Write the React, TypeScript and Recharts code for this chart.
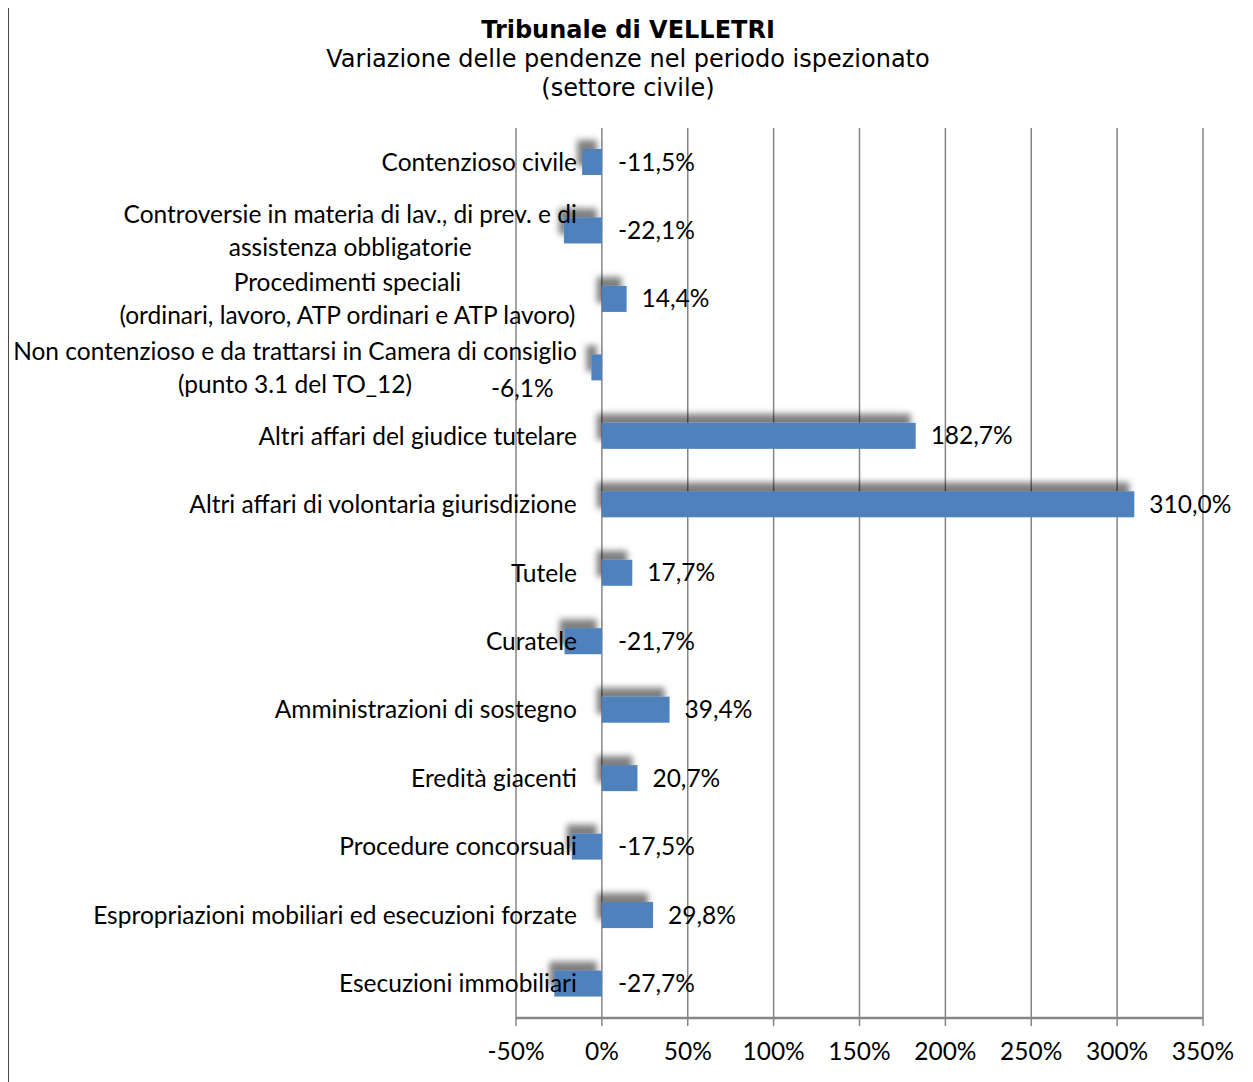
import { BarChart, Bar, XAxis, YAxis, CartesianGrid, LabelList } from 'recharts';

const categories = [
    'Contenzioso civile',
    'Controversie in materia di lav., di prev. e di\nassistenza obbligatorie',
    'Procedimenti speciali\n(ordinari, lavoro, ATP ordinari e ATP lavoro)',
    'Non contenzioso e da trattarsi in Camera di consiglio\n(punto 3.1 del TO_12)',
    'Altri affari del giudice tutelare',
    'Altri affari di volontaria giurisdizione',
    'Tutele',
    'Curatele',
    'Amministrazioni di sostegno',
    'Eredità giacenti',
    'Procedure concorsuali',
    'Espropriazioni mobiliari ed esecuzioni forzate',
    'Esecuzioni immobiliari',
];

const variazione = [-11.5, -22.1, 14.4, -6.1, 182.7, 310.0, 17.7, -21.7, 39.4, 20.7, -17.5, 29.8, -27.7];

const xTicks = [-50, 0, 50, 100, 150, 200, 250, 300, 350];

const data = categories.map((name, i) => ({ name, value: variazione[i] }));

const CHART_W = 1238;
const CHART_H = 1075;
const MARGIN = { top: 121, right: 44, bottom: 24, left: 0 };
const Y_W = 507;
const X_MIN = -50;
const X_MAX = 350;
const LABEL_FONT = 'Lato';
const LABEL_SIZE = 24.5;
const GRID = '#868686';
const BLUE = '#4F81BD';

// the -6,1% label was dragged away from its bar in the original
const labelNudge: Record<number, { dx: number; dy: number }> = {
    3: { dx: -127, dy: 21 },
};

const plotW = CHART_W - MARGIN.left - MARGIN.right - Y_W;
const zeroX = MARGIN.left + Y_W + ((0 - X_MIN) / (X_MAX - X_MIN)) * plotW;

let ctx: CanvasRenderingContext2D | null = null;
const measure = (s: string) => {
    if (!ctx) ctx = document.createElement('canvas').getContext('2d');
    if (!ctx) return s.length * 10;
    ctx.font = `${LABEL_SIZE}px ${LABEL_FONT}`;
    return ctx.measureText(s).width;
};

const CategoryTick = (props: any) => {
    const { y, payload } = props;
    const lines: string[] = String(payload.value).split('\n');
    const widest = Math.max(...lines.map(measure));
    const cx = zeroX - 25 - widest / 2;
    const lh = 33;
    const y0 = y - ((lines.length - 1) * lh) / 2;
    return (
        <text
            textAnchor="middle"
            fontFamily={LABEL_FONT}
            fontSize={LABEL_SIZE}
            fill="#000"
        >
            {lines.map((l, i) => (
                <tspan key={i} x={cx} y={y0 + i * lh} dy="0.35em">
                    {l}
                </tspan>
            ))}
        </text>
    );
};

const ShadowBar = (props: any) => {
    const { x, y, width, height } = props;
    const left = Math.min(x, x + width);
    const w = Math.abs(width);
    return (
        <g>
            <rect x={left} y={y} width={w} height={height} fill={BLUE} filter="url(#barShadow)" />
        </g>
    );
};

const ValueLabel = (props: any) => {
    const { x, y, width, height, value, index } = props;
    const right = Math.max(x, x + width);
    const nudge = labelNudge[index] || { dx: 0, dy: 0 };
    const gap = value < 0 ? 16 : 15;
    return (
        <text
            x={right + gap + nudge.dx}
            y={y + height / 2 + nudge.dy}
            dy="0.35em"
            fontFamily={LABEL_FONT}
            fontSize={LABEL_SIZE}
            fill="#000"
        >
            {value.toFixed(1).replace('.', ',') + '%'}
        </text>
    );
};

export default function App() {
    return (
        <div
            style={{
                position: 'relative',
                width: CHART_W,
                height: CHART_H + 10,
                marginLeft: -1,
                marginTop: -3,
                borderTop: '2px solid #3a3a3a',
                borderLeft: '2px solid #4a4a4a',
                borderRight: '2px solid #8a8a8a',
                borderBottom: '2px solid #8a8a8a',
                background: '#fff',
            }}
        >
            <div
                style={{
                    position: 'absolute',
                    top: 9,
                    left: 0,
                    width: '100%',
                    textAlign: 'center',
                    fontFamily: 'DejaVu Sans',
                    fontSize: 24,
                    lineHeight: '29px',
                    color: '#000',
                }}
            >
                <div style={{ fontWeight: 'bold' }}>Tribunale di VELLETRI</div>
                <div>Variazione delle pendenze nel periodo ispezionato</div>
                <div>(settore civile)</div>
            </div>
            <div style={{ position: 'absolute', top: 0, left: 0 }}>
                <BarChart
                    layout="vertical"
                    width={CHART_W}
                    height={CHART_H}
                    data={data}
                    margin={MARGIN}
                >
                    <defs>
                        <filter
                            id="barShadow"
                            filterUnits="userSpaceOnUse"
                            x={0}
                            y={0}
                            width={CHART_W}
                            height={CHART_H}
                        >
                            <feDropShadow dx={-5} dy={-9} stdDeviation={3} floodColor="#000" floodOpacity={0.5} />
                        </filter>
                    </defs>
                    <CartesianGrid horizontal={false} stroke={GRID} strokeWidth={1.5} />
                    <XAxis
                        type="number"
                        domain={[X_MIN, X_MAX]}
                        ticks={xTicks}
                        tickFormatter={(v: number) => `${v}%`}
                        stroke={GRID}
                        axisLine={{ stroke: GRID, strokeWidth: 2.5 }}
                        tickLine={{ stroke: GRID, strokeWidth: 1.5 }}
                        tickSize={8}
                        tickMargin={17}
                        height={40}
                        tick={{ fill: '#000', fontFamily: LABEL_FONT, fontSize: LABEL_SIZE }}
                        allowDataOverflow
                    />
                    <YAxis
                        type="category"
                        dataKey="name"
                        width={Y_W}
                        axisLine={false}
                        tickLine={false}
                        tick={<CategoryTick />}
                        interval={0}
                    />
                    <Bar dataKey="value" barSize={26} shape={<ShadowBar />} isAnimationActive={false}>
                        <LabelList dataKey="value" content={<ValueLabel />} />
                    </Bar>
                </BarChart>
            </div>
        </div>
    );
}
